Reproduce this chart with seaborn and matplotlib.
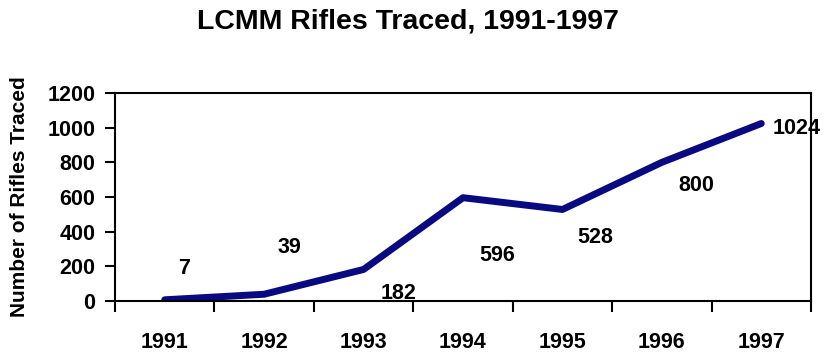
import matplotlib
matplotlib.use("Agg")
import numpy as np
import pandas as pd
import seaborn as sns
from matplotlib import pyplot as plt

# data
years = ["1991", "1992", "1993", "1994", "1995", "1996", "1997"]
rifles = [7, 39, 182, 596, 528, 800, 1024]
y_ticks = [0, 200, 400, 600, 800, 1000, 1200]

# where the value labels sit relative to their point (category units, rifles)
label_dx = [0.20, 0.25, 0.35, 0.34, 0.33, 0.35, 0.36]
label_dy = [183, 267, -136, -331, -159, -131, -26]

sns.set_theme(style="ticks")
plt.rcParams["font.family"] = ["Liberation Sans", "DejaVu Sans"]
plt.rcParams["font.weight"] = "bold"
for k in ["text.color", "axes.labelcolor", "xtick.color", "ytick.color",
          "xtick.labelcolor", "ytick.labelcolor"]:
    plt.rcParams[k] = "black"

fig = plt.figure(figsize=(8.25, 3.53), dpi=100)
ax = fig.add_axes([115 / 825, 1 - 301 / 353, 696 / 825, 208 / 353])

df = pd.DataFrame({"year": years, "rifles": rifles})
sns.lineplot(data=df, x="year", y="rifles", ax=ax, color="#0a0a80",
             linewidth=5, solid_capstyle="round", solid_joinstyle="round")

ax.set_xlim(-0.5, 6.5)
ax.set_ylim(0, 1200)
ax.set_yticks(y_ticks)
ax.set_yticklabels([str(t) for t in y_ticks])

# category style axis: ticks between categories, labels in the middle
ax.set_xticks(np.arange(-0.5, 7, 1))
ax.set_xticklabels([])
ax.set_xticks(np.arange(len(years)), minor=True)
ax.set_xticklabels(years, minor=True)
ax.tick_params(axis="x", which="major", length=8, width=1.5, color="black")
ax.tick_params(axis="x", which="minor", length=0, pad=22, labelsize=15.5)
ax.tick_params(axis="y", length=7, width=1.5, color="black", pad=7, labelsize=15.5)

for s in ax.spines.values():
    s.set_visible(True)
    s.set_color("black")
    s.set_linewidth(1.5)
    s.set_zorder(5)

for i, v in enumerate(rifles):
    ax.text(i + label_dx[i], v + label_dy[i], str(v), ha="center", va="center",
            fontsize=15.5, fontweight="bold", color="black", zorder=3)

ax.set_xlabel("")
ax.set_ylabel("Number of Rifles Traced", fontsize=15, fontweight="bold", va="center")
ax.yaxis.set_label_coords(-0.1365, 0.5)

fig.text(0.494, 0.938, "LCMM Rifles Traced, 1991-1997", ha="center", va="center",
         fontsize=20.5, fontweight="bold", color="black")

fig.savefig("out.png", dpi=100)
